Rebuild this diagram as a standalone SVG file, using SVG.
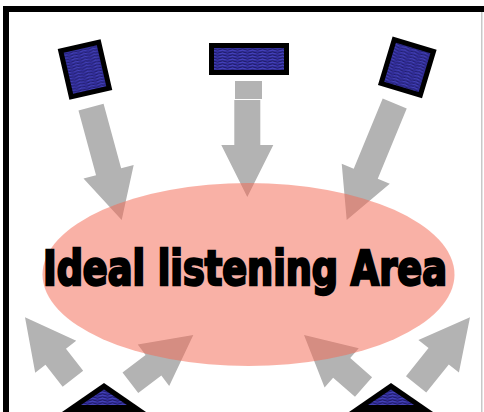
<svg xmlns="http://www.w3.org/2000/svg" width="484" height="412" viewBox="0 0 484 412">
<defs>
<pattern id="wave" width="10" height="3" patternUnits="userSpaceOnUse">
<rect width="10" height="3" fill="#3430a0"/>
<path d="M0,1.5 Q2.5,0 5,1.5 T10,1.5" stroke="#1c1960" stroke-width="0.9" fill="none"/>
<path d="M0,2.8 Q2.5,1.6 5,2.8 T10,2.8" stroke="#5656d8" stroke-width="0.5" fill="none"/>
</pattern>
<style>
.spk{fill:url(#wave);stroke:#000;stroke-width:5;stroke-linejoin:miter}
.arr{fill:#b3b3b3;stroke:none}
.tri{fill:#000}
.tri-in{fill:url(#wave)}
.area{fill:#f36a55;opacity:0.52}
.lbl{font-family:"DejaVu Sans Condensed","DejaVu Sans","Liberation Sans",sans-serif;font-weight:bold;font-size:48px;fill:#000;stroke:#000;stroke-width:2.4}
</style>
</defs>
<rect width="484" height="412" fill="#fff"/>
<g id="frame">
<rect x="3" y="6" width="481" height="6" fill="#000"/>
<rect x="3" y="6" width="6" height="406" fill="#000"/>
<rect x="481" y="12" width="1.5" height="400" fill="#c8c8c8"/>
</g>
<g id="connectors">
<rect class="arr" x="235" y="81" width="27" height="18"/>
<path class="arr" transform="translate(121.7,220) rotate(164.8)" d="M0,0 L26,50 L13,50 L13,117 L-13,117 L-13,50 L-26,50 Z"/>
<path class="arr" transform="translate(247.3,197) rotate(180)" d="M0,0 L26,52 L13,52 L13,97 L-13,97 L-13,52 L-26,52 Z"/>
<path class="arr" transform="translate(346.7,220) rotate(-157.6)" d="M0,0 L26,50 L13,50 L13,126 L-13,126 L-13,50 L-26,50 Z"/>
<path class="arr" transform="translate(25,317.3) rotate(-37.9)" d="M0,0 L26,50 L13,50 L13,78 L-13,78 L-13,50 L-26,50 Z"/>
<path class="arr" transform="translate(193.3,335) rotate(52.8)" d="M0,0 L26,50 L13,50 L13,79 L-13,79 L-13,50 L-26,50 Z"/>
<path class="arr" transform="translate(304,335) rotate(-48.9)" d="M0,0 L26,50 L13,50 L13,79 L-13,79 L-13,50 L-26,50 Z"/>
<path class="arr" transform="translate(470,317.3) rotate(38.8)" d="M0,0 L26,50 L13,50 L13,86 L-13,86 L-13,50 L-26,50 Z"/>
</g>
<g id="speaker-front-left">
<rect class="spk" x="-19.5" y="-23.5" width="39" height="47" transform="translate(85,69.5) rotate(-13)"/>
</g>
<g id="speaker-center">
<rect class="spk" x="211.5" y="45.5" width="75" height="27"/>
</g>
<g id="speaker-front-right">
<rect class="spk" x="-20.5" y="-22.8" width="41" height="45.6" transform="translate(407.3,67.4) rotate(16.8)"/>
</g>
<g id="speaker-rear-left">
<polygon class="tri" points="104,383 62,412 146,412"/>
<polygon class="tri-in" points="104,389.5 81,405 127,405"/>
</g>
<g id="speaker-rear-right">
<polygon class="tri" points="391,383 349,412 433,412"/>
<polygon class="tri-in" points="391,389.5 368,405 414,405"/>
</g>
<g id="listening-area">
<ellipse class="area" cx="248.5" cy="274.5" rx="206" ry="91.5"/>
<text class="lbl" x="0" y="0" transform="translate(43,285) scale(0.66,1)" textLength="612" lengthAdjust="spacingAndGlyphs">Ideal listening Area</text>
</g>
</svg>
